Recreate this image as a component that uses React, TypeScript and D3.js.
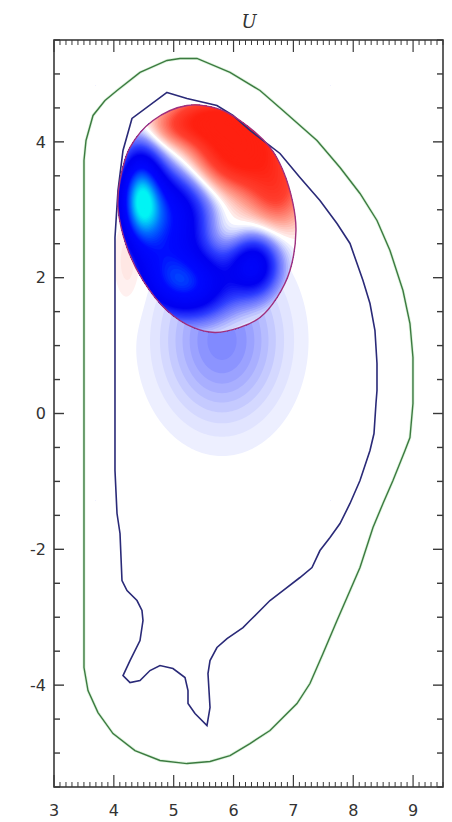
import React, { useMemo } from "react";
import * as d3 from "d3";

const W = 452;
const H = 822;
const TITLE = "U";
const X_DOMAIN: [number, number] = [3, 9.5];
const Y_DOMAIN: [number, number] = [-5.5, 5.5];
const xTickValues = [3, 4, 5, 6, 7, 8, 9];
const yTickValues = [-4, -2, 0, 2, 4];

// outer (green) contour
const greenX = [5.105, 5.389, 5.941, 6.442, 6.826, 7.394, 7.779, 8.113, 8.397, 8.614, 8.831, 8.948, 8.998, 8.998, 8.948, 8.865, 8.664, 8.497, 8.33, 8.113, 7.896, 7.729, 7.495, 7.277, 7.06, 6.826, 6.609, 6.275, 5.941, 5.607, 5.222, 4.771, 4.353, 3.986, 3.735, 3.568, 3.501, 3.501, 3.535, 3.652, 3.852, 4.053, 4.437, 4.888];
const greenY = [5.228, 5.228, 5.022, 4.757, 4.462, 4.021, 3.623, 3.24, 2.842, 2.401, 1.811, 1.325, 0.825, 0.147, -0.353, -0.545, -0.987, -1.325, -1.679, -2.268, -2.71, -3.049, -3.535, -3.976, -4.271, -4.477, -4.669, -4.86, -5.037, -5.125, -5.155, -5.11, -4.963, -4.713, -4.404, -4.08, -3.741, 3.726, 4.021, 4.389, 4.61, 4.757, 5.022, 5.199];

// boundary (navy) contour
const blueX = [4.888, 5.222, 5.723, 5.991, 6.275, 6.776, 7.11, 7.444, 7.729, 7.946, 8.163, 8.28, 8.363, 8.397, 8.397, 8.38, 8.347, 8.28, 8.113, 7.946, 7.779, 7.612, 7.444, 7.311, 7.11, 6.826, 6.609, 6.275, 6.158, 5.891, 5.723, 5.607, 5.573, 5.607, 5.556, 5.356, 5.239, 5.239, 5.189, 4.988, 4.771, 4.604, 4.437, 4.27, 4.153, 4.27, 4.437, 4.487, 4.47, 4.387, 4.22, 4.136, 4.103, 4.053, 4.019, 4.019, 4.069, 4.153, 4.303];
const blueY = [4.728, 4.639, 4.536, 4.389, 4.168, 3.829, 3.476, 3.137, 2.798, 2.504, 1.959, 1.62, 1.222, 0.736, 0.339, 0.147, -0.295, -0.545, -0.987, -1.325, -1.62, -1.826, -2.018, -2.268, -2.415, -2.607, -2.754, -3.049, -3.152, -3.314, -3.446, -3.638, -3.829, -4.33, -4.595, -4.418, -4.271, -4.08, -3.888, -3.756, -3.711, -3.785, -3.932, -3.962, -3.859, -3.638, -3.343, -3.049, -2.901, -2.754, -2.607, -2.459, -1.767, -1.473, -0.839, 2.592, 3.284, 3.873, 4.345];

// magenta oval contour
const ovalX = [5.222, 5.723, 6.108, 6.609, 6.826, 6.993, 7.043, 6.943, 6.726, 6.442, 6.108, 5.69, 5.322, 4.888, 4.487, 4.22, 4.069, 4.103, 4.27, 4.654];
const ovalY = [4.536, 4.492, 4.315, 3.918, 3.579, 3.093, 2.695, 2.106, 1.708, 1.414, 1.267, 1.193, 1.267, 1.517, 1.959, 2.445, 3.034, 3.432, 3.918, 4.315];

// field sources inside the oval (centre x, centre y, amplitude, widths)
const coreX = [6.108, 5.523, 6.743, 4.938, 5.907, 4.437, 4.905, 5.272, 6.342, 4.771];
const coreY = [3.903, 4.345, 3.211, 4.197, 2.666, 3.211, 2.916, 1.885, 2.18, 2.106];
const coreAmp = [1.0, 0.55, 0.45, 0.2, 0.12, -1.2, -1.0, -1.0, -0.85, -0.3];
const coreSx = [0.585, 0.468, 0.334, 0.368, 0.3, 0.25, 0.5, 0.501, 0.3, 0.368];
const coreSy = [0.442, 0.236, 0.368, 0.206, 0.25, 0.5, 0.5, 0.353, 0.324, 0.368];

// faint field outside the oval
const haloX = [5.807, 4.236];
const haloY = [1.075, 2.224];
const haloAmp = [-0.24, 0.07];
const haloSx = [0.68, 0.167];
const haloSy = [0.8, 0.44];

const colorStops = [-1.7, -1.4, -1.1, -0.7, -0.45, -0.22, -0.08, 0, 0.08, 0.25, 0.55, 0.85];
const colorValues = ["#00f4f4", "#0070ff", "#0008ff", "#0000f0", "#3040ff", "#8890ff", "#d8dcff", "#ffffff", "#ffe0dc", "#ffa090", "#ff4030", "#ff2010"];

const L = 54, R = 443, T = 40, B = 787;

function computeField(
  xs: number[], ys: number[], amps: number[], sxs: number[], sys: number[],
  xScale: d3.ScaleLinear<number, number>, yScale: d3.ScaleLinear<number, number>,
  x0: number, y0: number, x1: number, y1: number, step: number
) {
  const nx = Math.ceil((x1 - x0) / step) + 1;
  const ny = Math.ceil((y1 - y0) / step) + 1;
  const values = new Array(nx * ny);
  for (let j = 0; j < ny; j++) {
    const dy = yScale.invert(y0 + j * step);
    for (let i = 0; i < nx; i++) {
      const dx = xScale.invert(x0 + i * step);
      let v = 0;
      for (let k = 0; k < xs.length; k++) {
        const a = (dx - xs[k]) / sxs[k];
        const b = (dy - ys[k]) / sys[k];
        v += amps[k] * Math.exp(-0.5 * (a * a + b * b));
      }
      values[j * nx + i] = v;
    }
  }
  return { nx, ny, values };
}

export default function App() {
  const xScale = d3.scaleLinear().domain(X_DOMAIN).range([L, R]);
  const yScale = d3.scaleLinear().domain(Y_DOMAIN).range([B, T]);
  const baseColor = d3.scaleLinear<string>().domain(colorStops).range(colorValues).clamp(true);
  const color = (v: number) => (Math.abs(v) < 0.03 ? "#ffffff" : baseColor(v));

  const greenPath = d3.line<[number, number]>().x((d) => xScale(d[0])).y((d) => yScale(d[1]))
    .curve(d3.curveLinearClosed)(greenX.map((x, i) => [x, greenY[i]]));
  const bluePath = d3.line<[number, number]>().x((d) => xScale(d[0])).y((d) => yScale(d[1]))
    .curve(d3.curveLinearClosed)(blueX.map((x, i) => [x, blueY[i]]));
  const ovalPath = d3.line<[number, number]>().x((d) => xScale(d[0])).y((d) => yScale(d[1]))
    .curve(d3.curveCatmullRomClosed.alpha(0.5))(ovalX.map((x, i) => [x, ovalY[i]]));

  const layers = useMemo(() => {
    const step = 2;
    const gx0 = 96, gy0 = 86, gx1 = 330, gy1 = 500;
    const mk = (f: { nx: number; ny: number; values: number[] }, th: number[]) => {
      const cs = d3.contours().size([f.nx, f.ny]).thresholds(th)(f.values);
      const proj = d3.geoTransform({
        point: function (x: number, y: number) {
          (this as any).stream.point(gx0 + (x - 0.5) * step, gy0 + (y - 0.5) * step);
        },
      });
      const gp = d3.geoPath(proj);
      return cs.map((c, i) => {
        const next = i + 1 < th.length ? th[i + 1] : th[i] + (th[1] - th[0]);
        return { d: gp(c as any) || "", fill: color((th[i] + next) / 2) };
      });
    };
    const halo = computeField(haloX, haloY, haloAmp, haloSx, haloSy, xScale, yScale, gx0, gy0, gx1, gy1, step);
    const core = computeField(coreX, coreY, coreAmp, coreSx, coreSy, xScale, yScale, gx0, gy0, gx1, gy1, step);
    const haloTh = d3.range(-0.6, 0.4, 0.025);
    const coreTh = d3.range(-2.6, 1.6, 0.03);
    return { halo: mk(halo, haloTh), core: mk(core, coreTh) };
  }, []);

  const xMinor = d3.range(30, 96).map((v) => v / 10).filter((v) => Math.abs(v - Math.round(v)) > 1e-6);
  const yMinor = d3.range(-11, 12).map((v) => v / 2).filter((v) => !yTickValues.includes(v));
  const axisColor = "#3a3a3a";

  return (
    <svg width={W} height={H} style={{ position: "absolute", left: 0, top: 0, background: "#fff" }}>
      <defs>
        <clipPath id="ovalClip">
          <path d={ovalPath || ""} />
        </clipPath>
        <clipPath id="plotClip">
          <rect x={L} y={T} width={R - L} height={B - T} />
        </clipPath>
      </defs>
      <rect x={0} y={0} width={W} height={H} fill="#fff" />
      <g clipPath="url(#plotClip)">
        {layers.halo.map((c, i) => (
          <path key={"h" + i} d={c.d} fill={c.fill} stroke="none" />
        ))}
        <g clipPath="url(#ovalClip)">
          {layers.core.map((c, i) => (
            <path key={"c" + i} d={c.d} fill={c.fill} stroke="none" />
          ))}
        </g>
        <path d={greenPath || ""} fill="none" stroke="#c8ecc8" strokeWidth={3} opacity={0.6} />
        <path d={greenPath || ""} fill="none" stroke="#3c7a40" strokeWidth={1.4} />
        <path d={bluePath || ""} fill="none" stroke="#2a2a78" strokeWidth={1.6} />
        <path d={ovalPath || ""} fill="none" stroke="#a0307e" strokeWidth={1.4} />
      </g>

      <rect x={L} y={T} width={R - L} height={B - T} fill="none" stroke={axisColor} strokeWidth={1.6} />
      {xTickValues.map((v) => (
        <g key={"xt" + v}>
          <line x1={xScale(v)} x2={xScale(v)} y1={B} y2={B - 12} stroke={axisColor} strokeWidth={1.2} />
          <line x1={xScale(v)} x2={xScale(v)} y1={T} y2={T + 12} stroke={axisColor} strokeWidth={1.2} />
          <text x={xScale(v)} y={816} textAnchor="middle" fontFamily="DejaVu Sans, sans-serif" fontSize={16} fill="#333">
            {v}
          </text>
        </g>
      ))}
      {xMinor.map((v) => (
        <g key={"xm" + v}>
          <line x1={xScale(v)} x2={xScale(v)} y1={B} y2={B - 5} stroke={axisColor} strokeWidth={1} />
          <line x1={xScale(v)} x2={xScale(v)} y1={T} y2={T + 5} stroke={axisColor} strokeWidth={1} />
        </g>
      ))}
      {yTickValues.map((v) => (
        <g key={"yt" + v}>
          <line x1={L} x2={L + 10} y1={yScale(v)} y2={yScale(v)} stroke={axisColor} strokeWidth={1.4} />
          <line x1={R} x2={R - 10} y1={yScale(v)} y2={yScale(v)} stroke={axisColor} strokeWidth={1.4} />
          <text x={46} y={yScale(v)} dy="0.36em" textAnchor="end" fontFamily="DejaVu Sans, sans-serif" fontSize={16} fill="#333">
            {v}
          </text>
        </g>
      ))}
      {yMinor.map((v) => (
        <g key={"ym" + v}>
          <line x1={L} x2={L + 6} y1={yScale(v)} y2={yScale(v)} stroke={axisColor} strokeWidth={1.4} />
          <line x1={R} x2={R - 6} y1={yScale(v)} y2={yScale(v)} stroke={axisColor} strokeWidth={1.4} />
        </g>
      ))}
      <text x={249} y={28} textAnchor="middle" fontFamily="DejaVu Serif, serif" fontStyle="italic" fontSize={18} fill="#333">
        {TITLE}
      </text>
    </svg>
  );
}
